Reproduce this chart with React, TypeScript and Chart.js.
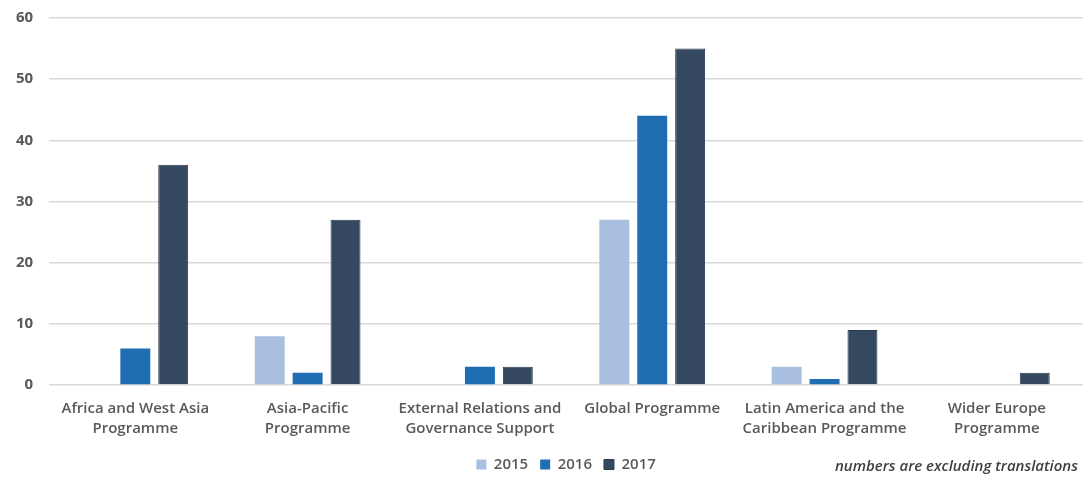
import React, { useEffect, useRef } from "react";
import { Chart, registerables } from "chart.js";

Chart.register(...registerables);

const categories: string[][] = [
  ["Africa and West Asia", "Programme"],
  ["Asia-Pacific", "Programme"],
  ["External Relations and", "Governance Support"],
  ["Global Programme"],
  ["Latin America and the", "Caribbean Programme"],
  ["Wider Europe", "Programme"],
];
const values2015 = [0, 8, 0, 27, 3, 0];
const values2016 = [6, 2, 3, 44, 1, 0];
const values2017 = [36, 27, 3, 55, 9, 2];
const seriesLabels = ["2015", "2016", "2017"];
const yTicks = { min: 0, max: 60, step: 10 };
const note = "numbers are excluding translations";

const FONT = "'Open Sans', 'Noto Sans', sans-serif";

export default function App() {
  const ref = useRef<HTMLCanvasElement | null>(null);
  useEffect(() => {
    document.body.style.margin = "0";
    const ctx = ref.current!.getContext("2d")!;
    const chart = new Chart(ctx, {
      type: "bar",
      data: {
        labels: categories,
        datasets: [
          { label: seriesLabels[0], data: values2015, backgroundColor: "#a9bfe0" },
          { label: seriesLabels[1], data: values2016, backgroundColor: "#1f6db3" },
          { label: seriesLabels[2], data: values2017, backgroundColor: "#34495f", borderColor: "#2a3a4d", borderWidth: 1 },
        ],
      },
      options: {
        animation: false,
        responsive: false,
        maintainAspectRatio: false,
        layout: { padding: { top: 0, right: 3, left: 0, bottom: 0 } },
        datasets: { bar: { categoryPercentage: 0.66, barPercentage: 0.79 } },
        plugins: {
          legend: {
            position: "bottom",
            fullSize: false,
            labels: {
              boxWidth: 10,
              boxHeight: 10,
              color: "#595959",
              font: { family: FONT, size: 15, weight: "600" },
              padding: 12,
            },
          },
          tooltip: { enabled: false },
        },
        scales: {
          x: {
            grid: { display: false },
            border: { display: false },
            ticks: {
              color: "#595959",
              font: { family: FONT, size: 15, weight: "600", lineHeight: 1.33 },
              maxRotation: 0,
              autoSkip: false,
              padding: 6,
            },
          },
          y: {
            min: yTicks.min,
            max: yTicks.max,
            ticks: {
              stepSize: yTicks.step,
              color: "#595959",
              font: { family: FONT, size: 15, weight: "bold", lineHeight: 0.25 },
              padding: 16,
            },
            grid: { color: "#d9d9d9", lineWidth: 1.5, drawTicks: false },
            border: { display: false },
          },
        },
      },
    });
    return () => chart.destroy();
  }, []);
  return (
    <div style={{ position: "relative", width: 1086, height: 482, background: "#fff" }}>
      <canvas ref={ref} width={1086} height={482} style={{ display: "block" }} />
      <div
        style={{
          position: "absolute",
          right: 8,
          top: 455,
          fontFamily: FONT,
          fontStyle: "italic",
          fontWeight: 600,
          fontSize: 15,
          color: "#404040",
        }}
      >
        {note}
      </div>
    </div>
  );
}
